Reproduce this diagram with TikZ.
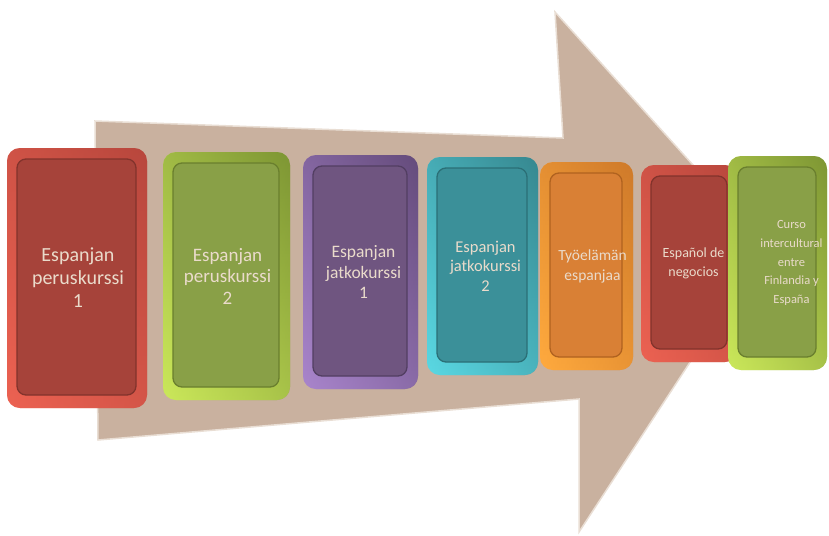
\documentclass[tikz,border=0pt]{standalone}
\usepackage{fontspec}
\setmainfont{Carlito}
\definecolor{arrowfill}{HTML}{C9B19F}
\definecolor{arrowedge}{HTML}{E9DED4}
\definecolor{txt}{HTML}{EADBCB}
\definecolor{redRim}{HTML}{EC6252}
\definecolor{redDark}{HTML}{B8473D}
\definecolor{redFace}{HTML}{A6433A}
\definecolor{redEdge}{HTML}{82332C}
\definecolor{grnRim}{HTML}{CBE85A}
\definecolor{grnDark}{HTML}{7E9634}
\definecolor{grnFace}{HTML}{89A047}
\definecolor{grnEdge}{HTML}{6A7F2E}
\definecolor{purRim}{HTML}{A985CC}
\definecolor{purDark}{HTML}{654C7C}
\definecolor{purFace}{HTML}{6F5580}
\definecolor{purEdge}{HTML}{523E62}
\definecolor{teaRim}{HTML}{5AD8E3}
\definecolor{teaDark}{HTML}{378890}
\definecolor{teaFace}{HTML}{3B9099}
\definecolor{teaEdge}{HTML}{2B6F76}
\definecolor{oraRim}{HTML}{FFAA3E}
\definecolor{oraDark}{HTML}{CF7A2A}
\definecolor{oraFace}{HTML}{D98035}
\definecolor{oraEdge}{HTML}{B0621F}
\tikzset{
  cardtext/.style={text=txt, align=center, inner sep=0pt},
}
% #1 name, #2 x1, #3 y1, #4 x2, #5 y2, #6 colour key, #7 {size}{skip}, #8 text x shift, #9 text
\newcommand\stepcard[9]{%
  \shade[rounded corners=13pt, left color=#6Rim, right color=#6Dark]
    (#2,#3) rectangle (#4,#5);
  \shade[rounded corners=13pt, top color=#6Dark, bottom color=#6Rim, opacity=0.55]
    (#2,#3) rectangle (#4,#5);
  \path[fill=#6Face, draw=#6Edge, line width=1.3pt, rounded corners=9pt]
    ({#2+10},{#3+11}) rectangle ({#4-11},{#5-13});
  \node[cardtext, font=\fontsize#7\selectfont] (#1)
    at ({(#2+#4)/2+#8},{(#3+#5)/2}) {#9};
}
\begin{document}
\begin{tikzpicture}[x=1pt, y=-1pt]
\useasboundingbox (0,0) rectangle (829,535);
% big arrow
\path[fill=arrowfill, draw=arrowedge, line width=1.5pt, line join=miter]
  (95,121) -- (563,138) -- (555,12) -- (766,246) -- (579,532)
  -- (579,399) -- (98,440) -- cycle;
% cards
\stepcard{c1}{7}{148}{147}{408}{red}{{20}{23}}{1}{Espanjan\\peruskurssi\\1}
\stepcard{c2}{163}{152}{290}{400}{grn}{{19}{21.5}}{1}{Espanjan\\peruskurssi\\2}
\stepcard{c3}{303}{155}{418}{389}{pur}{{17.5}{20.5}}{3}{Espanjan\\jatkokurssi\\1}
\stepcard{c4}{427}{157}{538}{375}{tea}{{16.5}{19.5}}{3}{Espanjan\\jatkokurssi\\2}
\stepcard{c5}{540}{162}{633}{370}{ora}{{15.5}{20}}{6}{Työelämän\\espanjaa}
\stepcard{c6}{641}{165}{738}{362}{red}{{14}{19}}{4}{Español de\\negocios}
\stepcard{c7}{728}{156}{827}{370}{grn}{{12.5}{18.8}}{14}{Curso\\intercultural\\entre\\Finlandia y\\España}
\end{tikzpicture}
\end{document}
